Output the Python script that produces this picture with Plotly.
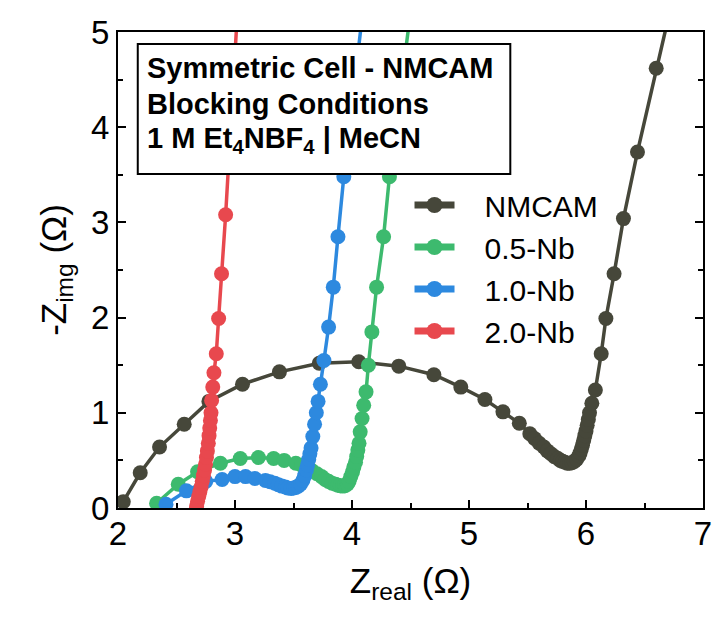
import plotly.graph_objects as go

# ---------------- data ----------------
nmcam_x = [2.045, 2.19, 2.355, 2.566, 2.777, 3.064, 3.38, 3.72, 4.058, 4.40, 4.70, 4.93,
           5.136, 5.29, 5.43, 5.52, 5.56, 5.60, 5.64, 5.67, 5.70, 5.73, 5.76, 5.78, 5.80,
           5.82, 5.84, 5.86, 5.88, 5.90, 5.92, 5.94, 5.95, 5.96, 5.97, 5.98, 5.99, 6.00,
           6.01, 6.02, 6.03, 6.05, 6.08, 6.13, 6.17, 6.24, 6.32, 6.44, 6.60, 6.76]
nmcam_y = [0.066, 0.37, 0.64, 0.88, 1.12, 1.30, 1.43, 1.52, 1.537, 1.49, 1.40, 1.27,
           1.14, 1.01, 0.89, 0.78, 0.73, 0.68, 0.64, 0.60, 0.57, 0.54, 0.52, 0.50, 0.49,
           0.48, 0.47, 0.47, 0.475, 0.49, 0.51, 0.55, 0.58, 0.62, 0.66, 0.71, 0.76, 0.81,
           0.87, 0.93, 1.00, 1.10, 1.24, 1.62, 1.99, 2.46, 3.04, 3.74, 4.62, 5.45]

nb05_x = [2.33, 2.515, 2.68, 2.875, 3.045, 3.20, 3.33, 3.42, 3.52, 3.57, 3.62, 3.66,
          3.70, 3.74, 3.77, 3.80, 3.83, 3.86, 3.88, 3.90, 3.92, 3.94, 3.96, 3.975,
          3.99, 4.005, 4.016, 4.03, 4.04, 4.05, 4.06, 4.07, 4.086, 4.10, 4.12, 4.14,
          4.17, 4.21, 4.27, 4.32, 4.51]
nb05_y = [0.05, 0.25, 0.38, 0.47, 0.52, 0.53, 0.52, 0.50, 0.47, 0.45, 0.42, 0.39,
          0.36, 0.33, 0.30, 0.28, 0.26, 0.25, 0.24, 0.235, 0.23, 0.235, 0.25, 0.28,
          0.33, 0.38, 0.43, 0.48, 0.54, 0.61, 0.68, 0.80, 0.94, 1.08, 1.22, 1.50,
          1.85, 2.32, 2.85, 3.48, 5.30]

nb10_x = [2.41, 2.585, 2.75, 2.89, 3.00, 3.09, 3.17, 3.26, 3.30, 3.34, 3.37, 3.40,
          3.43, 3.45, 3.48, 3.50, 3.52, 3.54, 3.56, 3.58, 3.595, 3.61, 3.62, 3.63,
          3.64, 3.65, 3.665, 3.68, 3.695, 3.71, 3.73, 3.76, 3.80, 3.84, 3.88, 3.93, 4.10]
nb10_y = [0.04, 0.18, 0.28, 0.30, 0.33, 0.33, 0.31, 0.29, 0.275, 0.26, 0.245, 0.23,
          0.22, 0.21, 0.205, 0.21, 0.215, 0.23, 0.25, 0.29, 0.34, 0.40, 0.45, 0.51,
          0.57, 0.63, 0.75, 0.88, 1.00, 1.12, 1.30, 1.55, 1.90, 2.32, 2.85, 3.48, 5.30]

nb20_x = [2.665, 2.672, 2.68, 2.69, 2.70, 2.71, 2.72, 2.73, 2.74, 2.748, 2.756, 2.764,
          2.772, 2.778, 2.784, 2.79, 2.795, 2.80, 2.81, 2.82, 2.84, 2.86, 2.885, 2.92, 3.025]
nb20_y = [-0.03, 0.02, 0.07, 0.12, 0.17, 0.22, 0.28, 0.34, 0.40, 0.46, 0.53, 0.60,
          0.68, 0.76, 0.84, 0.92, 1.00, 1.13, 1.27, 1.42, 1.62, 1.99, 2.46, 3.08, 5.30]

series_names = ["NMCAM", "0.5-Nb", "1.0-Nb", "2.0-Nb"]
series_colors = ["#46473a", "#3dba6e", "#2d89df", "#e8484e"]

box_lines = ["Symmetric Cell - NMCAM", "Blocking Conditions",
             "1 M Et<sub>4</sub>NBF<sub>4</sub> | MeCN"]

FONT = "Arial, Liberation Sans, sans-serif"
NBSP = "\u00a0"

fig = go.Figure()
for xs, ys, name, col in zip([nmcam_x, nb05_x, nb10_x, nb20_x],
                             [nmcam_y, nb05_y, nb10_y, nb20_y],
                             series_names, series_colors):
    fig.add_trace(go.Scatter(
        x=xs, y=ys, name=name, mode="lines+markers", showlegend=False,
        line=dict(color=col, width=3.5),
        marker=dict(color=col, size=15),
        cliponaxis=True,
    ))
# legend entries (thicker symbols as in the reference legend)
for name, col in zip(series_names, series_colors):
    fig.add_trace(go.Scatter(
        x=[None], y=[None], name=NBSP * 3 + name, mode="lines+markers",
        line=dict(color=col, width=7), marker=dict(color=col, size=16),
    ))

axis_common = dict(
    showline=True, linecolor="black", linewidth=2,
    ticks="inside", ticklen=8, tickwidth=2, tickcolor="black",
    showgrid=False, zeroline=False,
    tickfont=dict(family=FONT, size=33, color="black"),
    minor=dict(ticks="inside", ticklen=5, tickwidth=2, tickcolor="black", dtick=0.5),
)

fig.update_xaxes(range=[2, 7], dtick=1, tick0=2, mirror=True,
                 title=dict(text="Z<sub>real</sub> (Ω)",
                            font=dict(family=FONT, size=35, color="black"), standoff=18),
                 ticklabelstandoff=-5, **axis_common)
fig.update_yaxes(range=[0, 5], dtick=1, tick0=0, mirror="ticks",
                 title=dict(text="-Z<sub>img</sub> (Ω)",
                            font=dict(family=FONT, size=35, color="black"), standoff=14),
                 ticklabelstandoff=0, **axis_common)

# text box
fig.add_shape(type="rect", xref="paper", yref="paper",
              x0=(138 - 118) / 592, x1=(515 - 118) / 592,
              y0=(508 - 174) / 476, y1=(508 - 44) / 476,
              line=dict(color="black", width=2), fillcolor="white", layer="above")
for txt, py in zip(box_lines, [68, 104, 140]):
    fig.add_annotation(xref="paper", yref="paper",
                       x=(145 - 118) / 592, y=(508 - py) / 476,
                       xanchor="left", yanchor="middle", showarrow=False,
                       text="<b>" + txt + "</b>",
                       font=dict(family=FONT, size=29, color="black"))

fig.update_layout(
    width=724, height=622,
    margin=dict(l=118, r=14, t=32, b=114),
    paper_bgcolor="white", plot_bgcolor="white",
    font=dict(family=FONT, color="black"),
    legend=dict(x=(413 - 118) / 592, y=(508 - 179) / 476, xanchor="left", yanchor="top",
                font=dict(family=FONT, size=30, color="black"),
                bgcolor="rgba(0,0,0,0)", itemwidth=40, tracegroupgap=0),
)

fig.write_html("out.html")
